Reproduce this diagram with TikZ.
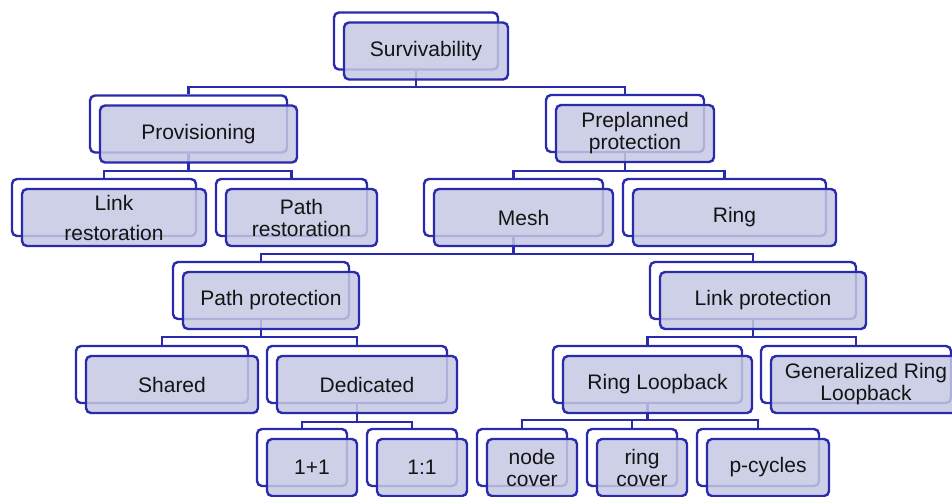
\documentclass[tikz,border=0pt]{standalone}
\usepackage{fontspec}
\setmainfont{Liberation Sans}
\definecolor{bordc}{RGB}{42,42,172}
\definecolor{fillc}{RGB}{198,200,228}
\definecolor{txtc}{RGB}{20,20,20}
\tikzset{
  backbox/.style={draw=bordc, line width=2.4pt, fill=white, rounded corners=5pt, minimum height=57pt, inner sep=0pt},
  frontbox/.style={draw=bordc, line width=2.4pt, fill=fillc, fill opacity=0.85, text opacity=1, text=txtc, rounded corners=5pt, minimum height=57pt, inner sep=0pt, align=center, font=\fontsize{21}{22}\selectfont},
  conn/.style={draw=bordc, line width=2.4pt},
}
\newcommand\frontof[3]{\node[frontbox, minimum width=#2pt] (#1-f) at ([shift={(10pt,-10pt)}]#1.center) {#3};}
\begin{document}
\begin{tikzpicture}[x=1pt,y=1pt]
\useasboundingbox (0,0) rectangle (952,-496);
\clip (0,0) rectangle (952,-496);
% back boxes
\node[backbox, minimum width=164pt] (surv) at (416,-41) {};
\node[backbox, minimum width=197pt] (prov) at (188.5,-124) {};
\node[backbox, minimum width=158pt] (prep) at (625,-123.5) {};
\node[backbox, minimum width=184pt] (linkr) at (104,-207.5) {};
\node[backbox, minimum width=151pt] (pathr) at (291.5,-207.5) {};
\node[backbox, minimum width=179pt] (mesh) at (513.5,-207.5) {};
\node[backbox, minimum width=203pt] (ring) at (724.5,-207.5) {};
\node[backbox, minimum width=176pt] (pathp) at (261,-290.5) {};
\node[backbox, minimum width=206pt] (linkp) at (753,-290.5) {};
\node[backbox, minimum width=172pt] (shared) at (162,-374.5) {};
\node[backbox, minimum width=180pt] (ded) at (357,-374.5) {};
\node[backbox, minimum width=189pt] (rl) at (647.5,-374.5) {};
\node[backbox, minimum width=190pt] (grl) at (856,-374.5) {};
\node[backbox, minimum width=90pt] (oneone) at (302,-457.5) {};
\node[backbox, minimum width=90pt] (onecolon) at (412,-457.5) {};
\node[backbox, minimum width=90pt] (nodec) at (522,-457.5) {};
\node[backbox, minimum width=90pt] (ringc) at (632,-457.5) {};
\node[backbox, minimum width=122pt] (pcyc) at (758,-457.5) {};
% bar levels
\coordinate (b1) at (0,-87);
\coordinate (b2) at (0,-171);
\coordinate (b3) at (0,-254);
\coordinate (b4) at (0,-337);
\coordinate (b5) at (0,-422);
\coordinate (b6) at (0,-420);
% connectors
\foreach \p/\c/\b in {surv/prov/b1, surv/prep/b1,
  prov/linkr/b2, prov/pathr/b2, prep/mesh/b2, prep/ring/b2,
  mesh/pathp/b3, mesh/linkp/b3,
  pathp/shared/b4, pathp/ded/b4, linkp/rl/b4, linkp/grl/b4,
  ded/oneone/b5, ded/onecolon/b5,
  rl/nodec/b6, rl/ringc/b6, rl/pcyc/b6}
  \draw[conn] (\p.south) -- (\p.south |- \b) -| (\c.north);
% front boxes
\frontof{surv}{164}{Survivability}
\frontof{prov}{197}{Provisioning}
\frontof{prep}{158}{Preplanned\\protection}
\frontof{linkr}{184}{Link\\[8pt]restoration}
\frontof{pathr}{151}{Path\\restoration}
\frontof{mesh}{179}{Mesh}
\frontof{ring}{203}{Ring}
\frontof{pathp}{176}{Path protection}
\frontof{linkp}{206}{Link protection}
\frontof{shared}{172}{Shared}
\frontof{ded}{180}{Dedicated}
\frontof{rl}{189}{Ring Loopback}
\frontof{grl}{190}{Generalized Ring\\Loopback}
\frontof{oneone}{90}{1+1}
\frontof{onecolon}{90}{1:1}
\frontof{nodec}{90}{node\\cover}
\frontof{ringc}{90}{ring\\cover}
\frontof{pcyc}{122}{p-cycles}
\end{tikzpicture}
\end{document}
